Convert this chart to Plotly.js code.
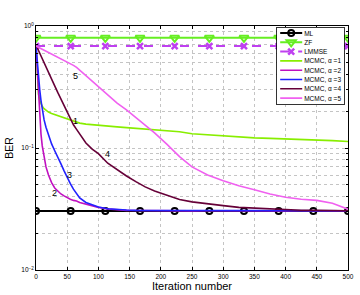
<!DOCTYPE html>
<html>
<head>
<meta charset="utf-8">
<script src="https://cdn.plot.ly/plotly-3.0.1.min.js"></script>
<style>html,body{margin:0;padding:0;background:#fff;}#chart{width:360px;height:295px;}</style>
</head>
<body>
<div id="chart"></div>
<script>
// ---- data ----
const markerIters = [0, 55.6, 111.1, 166.7, 222.2, 277.8, 333.3, 388.9, 444.4, 500];
const berML    = [0.0305,0.0305,0.0305,0.0305,0.0305,0.0305,0.0305,0.0305,0.0305,0.0305];
const berZF    = [0.80,0.80,0.80,0.80,0.80,0.80,0.80,0.80,0.80,0.80];
const berLMMSE = [0.685,0.685,0.685,0.685,0.685,0.685,0.685,0.685,0.685,0.685];

const iters = [0,2,4,6,8,10,13,16,20,25,30,35,40,45,50,55,60,65,70,80,90,100,115,130,145,160,175,190,210,230,250,275,300,325,350,375,400,425,450,475,500];

const mcmcA1 = [0.685,0.36,0.275,0.245,0.23,0.22,0.21,0.203,0.197,0.192,0.188,0.185,0.182,0.178,0.174,0.17,0.166,0.162,0.16,0.157,0.155,0.153,0.151,0.149,0.147,0.145,0.143,0.141,0.139,0.136,0.131,0.128,0.125,0.123,0.121,0.12,0.119,0.118,0.116,0.115,0.113];
const mcmcA2 = [0.685,0.42,0.27,0.18,0.13,0.104,0.083,0.07,0.06,0.052,0.047,0.044,0.042,0.0405,0.039,0.038,0.0372,0.0368,0.0358,0.0346,0.0336,0.0326,0.0316,0.031,0.0308,0.0307,0.0306,0.0307,0.0306,0.0306,0.0305,0.0306,0.0305,0.0305,0.0306,0.0305,0.0305,0.0306,0.0305,0.0305,0.0305];
const mcmcA3 = [0.685,0.5,0.38,0.3,0.245,0.205,0.17,0.148,0.128,0.108,0.095,0.085,0.074,0.065,0.057,0.051,0.046,0.042,0.039,0.0358,0.0342,0.0328,0.0318,0.0312,0.031,0.0308,0.0308,0.0307,0.0307,0.0306,0.0307,0.0306,0.0306,0.0307,0.0306,0.0306,0.0306,0.0306,0.0305,0.0306,0.0306];
const mcmcA4 = [0.685,0.665,0.63,0.6,0.57,0.54,0.5,0.463,0.418,0.367,0.323,0.284,0.25,0.22,0.194,0.172,0.155,0.142,0.131,0.11,0.098,0.09,0.075,0.066,0.059,0.053,0.048,0.0445,0.041,0.0378,0.0362,0.0347,0.0337,0.0326,0.0321,0.0315,0.0313,0.0309,0.0309,0.0307,0.0306];
const mcmcA5 = [0.685,0.677,0.668,0.659,0.65,0.641,0.629,0.617,0.604,0.586,0.57,0.553,0.537,0.522,0.507,0.492,0.476,0.458,0.435,0.392,0.353,0.318,0.27,0.233,0.205,0.178,0.155,0.133,0.107,0.085,0.07,0.06,0.0538,0.049,0.0455,0.042,0.0395,0.038,0.0372,0.0352,0.0315];

const legendNames = ['ML','ZF','LMMSE','MCMC, \u03b1 =1','MCMC, \u03b1 =2','MCMC, \u03b1 =3','MCMC, \u03b1 =4','MCMC, \u03b1 =5'];
const yTickVals = [0.01, 0.1, 1];
const yTickText = ['10<sup>\u22122</sup>','10<sup>\u22121</sup>','10<sup>0</sup>'];
const yMinorVals = [0.02,0.03,0.04,0.05,0.06,0.07,0.08,0.09,0.2,0.3,0.4,0.5,0.6,0.7,0.8,0.9];

// ---- traces ----
const traces = [
  {x: markerIters, y: berML, name: legendNames[0], mode: 'lines+markers',
   line: {color: '#000000', width: 2},
   marker: {symbol: 'circle-open', size: 6, color: '#000000', line: {width: 2, color: '#000000'}}},
  {x: markerIters, y: berZF, name: legendNames[1], mode: 'lines+markers',
   line: {color: '#66ee22', width: 2},
   marker: {symbol: 'triangle-down-open', size: 8, color: '#66ee22', line: {width: 2, color: '#66ee22'}}},
  {x: markerIters, y: berLMMSE, name: legendNames[2], mode: 'lines+markers',
   line: {color: '#bf40f0', width: 2, dash: 'dash'},
   marker: {symbol: 'x-thin-open', size: 6, color: '#bf40f0', line: {width: 2.5, color: '#bf40f0'}}},
  {x: iters, y: mcmcA1, name: legendNames[3], mode: 'lines', line: {color: '#88ee00', width: 1.6}},
  {x: iters, y: mcmcA2, name: legendNames[4], mode: 'lines', line: {color: '#c010c0', width: 1.6}},
  {x: iters, y: mcmcA3, name: legendNames[5], mode: 'lines', line: {color: '#2222ff', width: 1.6}},
  {x: iters, y: mcmcA4, name: legendNames[6], mode: 'lines', line: {color: '#660038', width: 1.6}},
  {x: iters, y: mcmcA5, name: legendNames[7], mode: 'lines', line: {color: '#f060f0', width: 1.6}}
];

const gridC = '#c4c4c4';
const layout = {
  width: 360, height: 295,
  margin: {l: 36, r: 12, t: 26, b: 25},
  paper_bgcolor: '#ffffff', plot_bgcolor: '#ffffff',
  font: {family: 'Liberation Sans, Arial, sans-serif', size: 6.5, color: '#000000'},
  showlegend: true,
  legend: {x: 0.987, xanchor: 'right', y: 0.996, yanchor: 'top',
           bgcolor: '#ffffff', bordercolor: '#000000', borderwidth: 0.8,
           font: {size: 6.5, family: 'Liberation Sans, Arial, sans-serif'}},
  xaxis: {range: [0, 500], tick0: 0, dtick: 50, ticks: 'inside', ticklen: 3, tickcolor: '#000',
          showline: true, linecolor: '#000', linewidth: 1, mirror: 'ticks',
          showgrid: true, gridcolor: gridC, griddash: 'dot', gridwidth: 1, zeroline: false,
          tickfont: {size: 6.5},
          title: {text: 'Iteration number', font: {size: 11}, standoff: 2}},
  yaxis: {type: 'log', range: [-2, 0], tickmode: 'array', tickvals: yTickVals, ticktext: yTickText,
          ticks: 'inside', ticklen: 3, tickcolor: '#000',
          showline: true, linecolor: '#000', linewidth: 1, mirror: 'ticks',
          showgrid: true, gridcolor: gridC, griddash: 'dot', gridwidth: 1, zeroline: false,
          tickfont: {size: 6.5},
          minor: {tickmode: 'array', tickvals: yMinorVals, ticks: 'inside', ticklen: 2, tickcolor: '#000',
                  showgrid: true, gridcolor: gridC, griddash: 'dot', gridwidth: 1},
          title: {text: 'BER', font: {size: 10.5}, standoff: 5}},
  annotations: [
    {x: 64, y: Math.log10(0.39), text: '5', showarrow: false, font: {size: 9}},
    {x: 63, y: Math.log10(0.168), text: '1', showarrow: false, font: {size: 9}},
    {x: 115, y: Math.log10(0.089), text: '4', showarrow: false, font: {size: 9}},
    {x: 54, y: Math.log10(0.06), text: '3', showarrow: false, font: {size: 9}},
    {x: 30, y: Math.log10(0.043), text: '2', showarrow: false, font: {size: 9}}
  ]
};

Plotly.newPlot('chart', traces, layout, {staticPlot: true}).then(function(gd){
  const leg = gd.querySelector('.legend');
  if(!leg) return;
  const items = leg.querySelectorAll('g.traces');
  const top = 6, step = 9.3;
  let maxW = 0;
  items.forEach(function(g, i){
    g.setAttribute('transform', 'translate(1,' + (top + i*step) + ')');
    g.querySelectorAll('.legendlines path').forEach(function(p){ p.setAttribute('d', 'M3,0h22'); });
    g.querySelectorAll('.legendpoints path').forEach(function(p){ p.setAttribute('transform', 'translate(14,0)'); });
    const t = g.querySelector('text.legendtext');
    if(t){
      t.setAttribute('x', 27);
      t.querySelectorAll('tspan').forEach(function(s){ if(s.hasAttribute('x')) s.setAttribute('x', 27); });
      const w = t.getComputedTextLength ? t.getComputedTextLength() : 35;
      maxW = Math.max(maxW, 27 + w);
    }
  });
  const W = maxW + 4, H = top*2 + (items.length-1)*step;
  const bg = leg.querySelector('rect.bg');
  if(bg){ bg.setAttribute('width', W); bg.setAttribute('height', H); }
  leg.setAttribute('transform', 'translate(' + (344 - W) + ',27)');
});
</script>
</body>
</html>
